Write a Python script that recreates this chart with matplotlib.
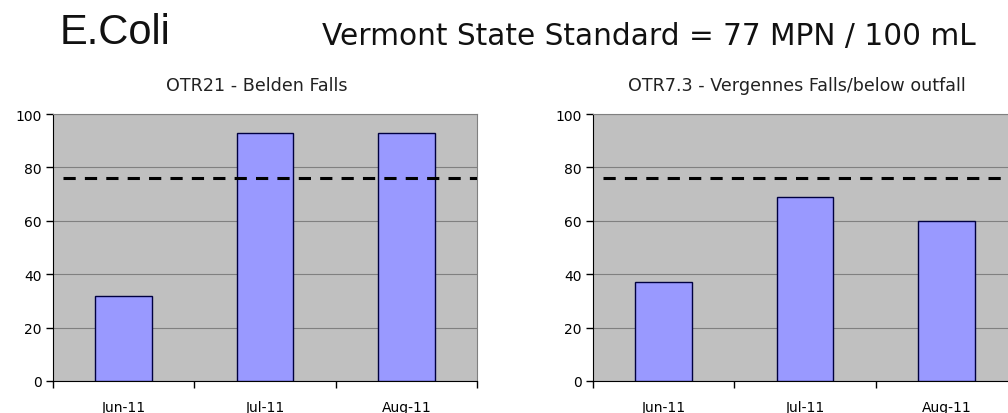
import matplotlib.pyplot as plt

plt.rcParams['font.family'] = ['DejaVu Sans']

# Data
months = ['Jun-11', 'Jul-11', 'Aug-11']
belden_falls = [32, 93, 93]
vergennes_falls = [37, 69, 60]
standard_line = 76
subtitles = ['OTR21 - Belden Falls', 'OTR7.3 - Vergennes Falls/below outfall']
y_ticks = [0, 20, 40, 60, 80, 100]

# Colors
plot_bg = '#c0c0c0'
bar_color = '#9999ff'
bar_edge = '#000040'
grid_color = '#808080'

fig = plt.figure(figsize=(10.08, 4.14), dpi=100)
fig.patch.set_facecolor('white')

fig.text(0.059, 0.921, 'E.Coli', fontsize=30, ha='left', va='center',
         family='Liberation Sans', color='#111111')
fig.text(0.319, 0.913, 'Vermont State Standard = 77 MPN / 100 mL', fontsize=21.3,
         ha='left', va='center', color='#111111')

axes_lefts = [0.0526, 0.5883]
series = [belden_falls, vergennes_falls]

for left, values, subtitle in zip(axes_lefts, series, subtitles):
    ax = fig.add_axes([left, 0.0773, 0.4206, 0.6449])
    ax.set_facecolor(plot_bg)
    x = range(len(months))
    ax.bar(x, values, width=0.4, color=bar_color, edgecolor=bar_edge,
           linewidth=1.0, zorder=3)
    ax.axhline(standard_line, xmin=0.024, xmax=1, color='black', linewidth=2.2,
               dashes=(4, 3), zorder=4)

    ax.set_xlim(-0.5, len(months) - 0.5)
    ax.set_ylim(0, 100)
    ax.set_yticks(y_ticks)
    ax.set_yticklabels([str(v) for v in y_ticks], fontsize=10)
    ax.yaxis.grid(True, color=grid_color, linewidth=0.8, zorder=1)
    ax.set_axisbelow(True)

    ax.set_xticks(list(x))
    ax.set_xticklabels(months, fontsize=10)
    ax.set_xticks([i - 0.5 for i in range(len(months) + 1)], minor=True)
    ax.tick_params(axis='x', which='major', length=0, pad=14)
    ax.tick_params(axis='x', which='minor', length=5, width=1, direction='out')
    ax.tick_params(axis='y', length=5, width=1, direction='out', pad=3)

    ax.spines['left'].set_color('black')
    ax.spines['bottom'].set_color('black')
    ax.spines['top'].set_color(grid_color)
    ax.spines['right'].set_color(grid_color)

    ax.set_title(subtitle, fontsize=12.6, pad=17, color='#222222', x=0.48)

fig.savefig('out.png', dpi=100)
